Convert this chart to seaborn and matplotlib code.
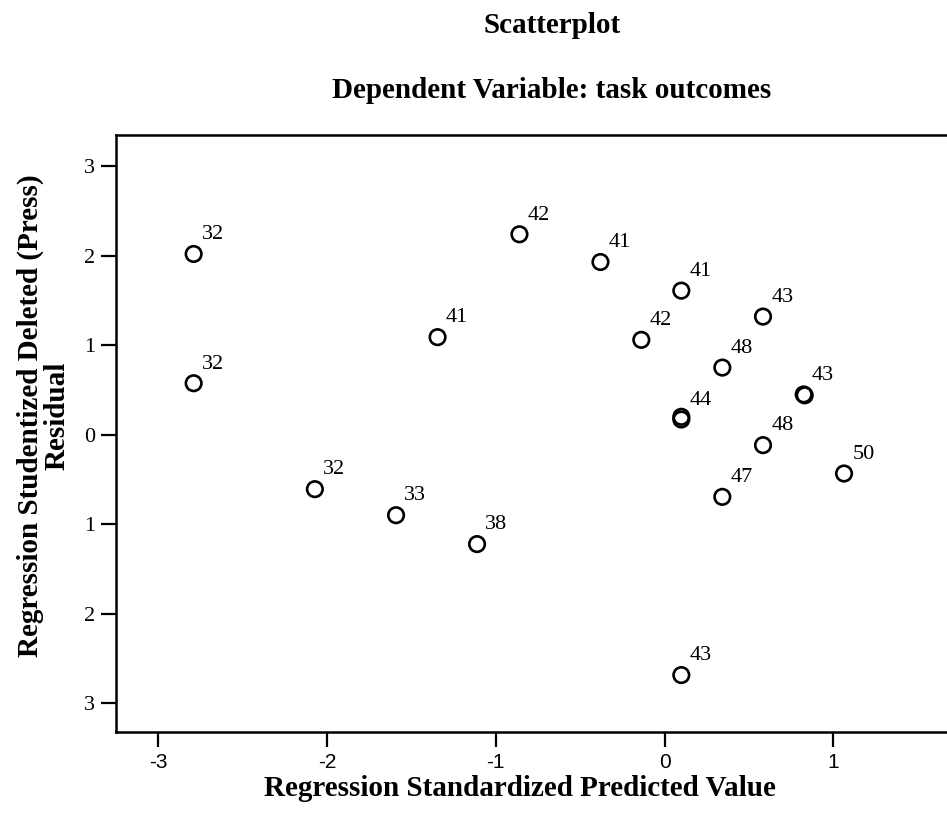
import matplotlib
matplotlib.use("Agg")
import matplotlib.pyplot as plt
import seaborn as sns
import pandas as pd

# values
predicted = [-2.79, -2.79, -0.86, -1.345, -0.38, 0.099, 0.583, -0.138, 0.342,
             0.824, 0.830, 0.099, 0.099, 0.583, 1.063, 0.342, -2.072, -1.591,
             -1.111, 0.099]
residual = [2.02, 0.575, 2.24, 1.09, 1.93, 1.61, 1.32, 1.06, 0.75,
            0.45, 0.44, 0.17, 0.20, -0.117, -0.434, -0.695, -0.609, -0.90,
            -1.223, -2.687]
case_labels = ["32", "32", "42", "41", "41", "41", "43", "42", "48",
               "43", "", "44", "", "48", "50", "47", "32", "33",
               "38", "43"]

x_ticks = [-3, -2, -1, 0, 1]
x_tick_labels = ["-3", "-2", "-1", "0", "1"]
y_ticks = [3, 2, 1, 0, -1, -2, -3]
y_tick_labels = ["3", "2", "1", "0", "1", "2", "3"]

df = pd.DataFrame({"pred": predicted, "resid": residual, "lab": case_labels})

sns.set_style("white")
plt.rcParams["font.family"] = ["Liberation Serif", "DejaVu Serif"]
plt.rcParams["text.color"] = "black"
plt.rcParams["axes.labelcolor"] = "black"

fig = plt.figure(figsize=(9.47, 8.16), dpi=100)
ax = fig.add_axes([0.1225, 0.1033, 0.8775, 0.7313])

sns.scatterplot(data=df, x="pred", y="resid", ax=ax, marker="o", s=125,
                facecolor="none", edgecolor="black", linewidth=1.9, legend=False)

for _, r in df.iterrows():
    if r["lab"]:
        ax.annotate(r["lab"], (r["pred"], r["resid"]), xytext=(6, 7),
                    textcoords="offset points", ha="left", va="bottom",
                    fontsize=16, color="black")

ax.set_xlim(-3.25, 1.673)
ax.set_ylim(-3.32, 3.35)

ax.set_xticks(x_ticks)
ax.set_xticklabels(x_tick_labels, family=["Liberation Sans Narrow", "Liberation Sans"],
                   fontsize=15)
ax.set_yticks(y_ticks)
ax.set_yticklabels(y_tick_labels, fontsize=16)
ax.tick_params(axis="both", direction="out", length=11, width=1.6, pad=4,
               colors="black", bottom=True, left=True)

for side in ["left", "top", "bottom"]:
    ax.spines[side].set_linewidth(1.8)
    ax.spines[side].set_color("black")
ax.spines["right"].set_visible(False)

ax.set_xlabel("Regression Standardized Predicted Value", fontsize=21,
              fontweight="bold")
ax.xaxis.set_label_coords(0.486, -0.072)
ax.set_ylabel("Regression Studentized Deleted (Press)\nResidual", fontsize=21,
              fontweight="bold", linespacing=0.95)
ax.yaxis.set_label_coords(-0.055, 0.53)

fig.text(0.583, 0.969, "Scatterplot", ha="center", va="center",
         fontsize=21, fontweight="bold")
fig.text(0.583, 0.889, "Dependent Variable: task outcomes", ha="center",
         va="center", fontsize=21, fontweight="bold")

fig.savefig("out.png", dpi=100)
